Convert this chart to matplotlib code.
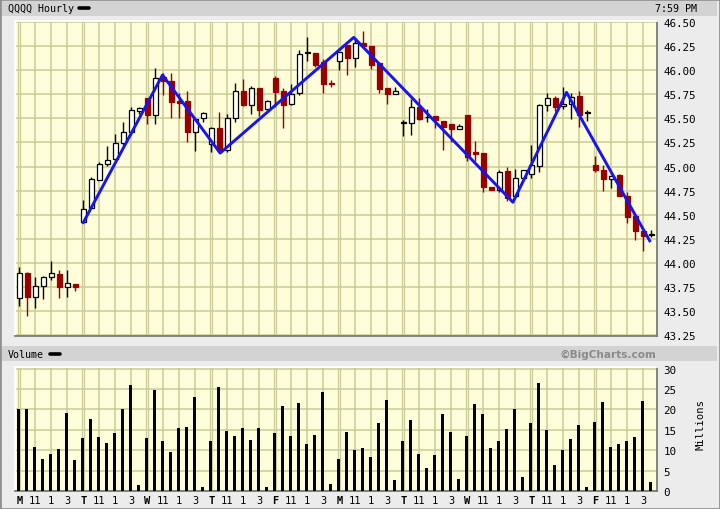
import matplotlib.pyplot as plt
from matplotlib.patches import Rectangle
from matplotlib.lines import Line2D

# Hourly QQQQ bars, 8 per day, 10 trading days
opens = [43.64, 43.90, 43.65, 43.76, 43.85, 43.89, 43.75, 43.78,
         44.43, 44.57, 44.86, 45.03, 45.08, 45.24, 45.36, 45.58,
         45.71, 45.53, 45.93, 45.89, 45.68, 45.68, 45.36, 45.50,
         45.23, 45.40, 45.17, 45.50, 45.78, 45.64, 45.81, 45.60,
         45.92, 45.78, 45.65, 45.76, 46.175, 46.18, 46.08, 45.865,
         46.10, 46.26, 46.13, 46.28, 46.25, 46.07, 45.82, 45.75,
         45.45, 45.45, 45.62, 45.51, 45.52, 45.47, 45.44, 45.395,
         45.53, 45.15, 45.14, 44.79, 44.76, 44.95, 44.69, 44.88,
         44.92, 45.01, 45.64, 45.71, 45.63, 45.65, 45.73, 45.555,
         45.02, 44.96, 44.87, 44.91, 44.69, 44.49, 44.33, 44.29]
highs = [43.96, 43.91, 43.86, 43.87, 44.02, 43.93, 43.93, 43.78,
         44.65, 44.89, 45.05, 45.21, 45.34, 45.46, 45.62, 45.62,
         45.71, 46.02, 45.97, 45.97, 45.76, 45.78, 45.49, 45.57,
         45.41, 45.57, 45.55, 45.87, 45.91, 45.84, 45.82, 45.69,
         45.94, 45.82, 45.86, 46.21, 46.34, 46.18, 46.12, 45.90,
         46.19, 46.26, 46.33, 46.41, 46.25, 46.07, 45.82, 45.83,
         45.48, 45.70, 45.71, 45.60, 45.52, 45.47, 45.44, 45.44,
         45.53, 45.27, 45.14, 44.79, 44.96, 45.00, 44.98, 44.96,
         45.22, 45.65, 45.76, 45.73, 45.83, 45.76, 45.78, 45.59,
         45.11, 45.02, 44.90, 44.92, 44.74, 44.49, 44.33, 44.34]
lows = [43.55, 43.45, 43.53, 43.63, 43.82, 43.64, 43.65, 43.71,
        44.41, 44.57, 44.86, 45.01, 45.08, 45.22, 45.33, 45.55,
        45.44, 45.44, 45.74, 45.50, 45.50, 45.26, 45.16, 45.46,
        45.15, 45.15, 45.15, 45.46, 45.63, 45.55, 45.52, 45.59,
        45.62, 45.40, 45.64, 45.74, 46.10, 46.03, 45.76, 45.83,
        46.00, 45.95, 46.03, 46.25, 46.01, 45.76, 45.65, 45.75,
        45.32, 45.33, 45.48, 45.46, 45.40, 45.17, 45.26, 45.385,
        45.06, 45.06, 44.74, 44.76, 44.74, 44.64, 44.67, 44.88,
        44.88, 44.94, 45.58, 45.58, 45.60, 45.49, 45.41, 45.47,
        44.94, 44.75, 44.78, 44.69, 44.41, 44.24, 44.12, 44.27]
closes = [43.90, 43.65, 43.76, 43.85, 43.90, 43.75, 43.79, 43.75,
          44.56, 44.87, 45.03, 45.07, 45.24, 45.36, 45.59, 45.61,
          45.53, 45.92, 45.89, 45.67, 45.66, 45.36, 45.49, 45.56,
          45.40, 45.17, 45.50, 45.78, 45.64, 45.82, 45.59, 45.68,
          45.77, 45.64, 45.75, 46.17, 46.185, 46.05, 45.86, 45.855,
          46.19, 46.13, 46.28, 46.25, 46.05, 45.80, 45.75, 45.78,
          45.455, 45.62, 45.49, 45.515, 45.48, 45.41, 45.39, 45.42,
          45.10, 45.13, 44.79, 44.76, 44.94, 44.67, 44.88, 44.96,
          45.02, 45.64, 45.71, 45.62, 45.65, 45.72, 45.54, 45.56,
          44.96, 44.87, 44.90, 44.69, 44.48, 44.33, 44.28, 44.295]
volume = [20.1, 20.1, 10.7, 7.8, 9.0, 10.2, 19.1, 7.5,
          13.0, 17.6, 13.2, 11.7, 14.2, 20.1, 26.0, 1.4,
          13.0, 24.8, 12.2, 9.5, 15.4, 15.7, 23.0, 1.1,
          12.2, 25.5, 14.7, 13.4, 15.4, 12.5, 15.4, 0.9,
          14.2, 20.8, 13.4, 21.6, 11.5, 13.7, 24.3, 1.6,
          7.8, 14.4, 10.0, 10.5, 8.3, 16.6, 22.3, 2.6,
          12.2, 17.4, 9.0, 5.6, 8.8, 18.9, 14.4, 2.9,
          13.4, 21.3, 18.9, 10.5, 12.2, 15.2, 20.1, 3.4,
          16.6, 26.5, 14.9, 6.3, 10.0, 12.7, 16.1, 1.1,
          16.9, 21.8, 10.7, 11.5, 12.2, 13.2, 22.0, 2.1]
days = ["M", "T", "W", "T", "F", "M", "T", "W", "T", "F"]
hours = ["11", "1", "3"]
# zigzag trend line (bar position, price)
zig_x = [8, 17.9, 25.1, 41.8, 61.7, 68.4, 78.8]
zig_y = [44.42, 45.95, 45.14, 46.34, 44.63, 45.77, 44.23]

bars_per_day = 8
n = len(closes)
x = list(range(n))
red = '#990000'
grid_c = '#CBCB98'
bg = '#FDFDDA'
mono = 'DejaVu Sans Mono'

fig = plt.figure(figsize=(7.2, 5.1), dpi=100, facecolor='#ECECEC')
W, H = 720, 510

def fbox(l, t, r, b):
    return [l / W, 1 - b / H, (r - l) / W, (b - t) / H]

ax = fig.add_axes(fbox(15, 22, 657, 337), facecolor=bg)
vax = fig.add_axes(fbox(15, 368, 657, 492), facecolor=bg)

# header strips
for t, b in [(2, 17), (347, 362)]:
    fig.patches.append(Rectangle((2 / W, 1 - b / H), 715 / W, (b - t) / H,
                                 transform=fig.transFigure, facecolor='#D3D3D3',
                                 edgecolor='none', zorder=0))
fig.patches.append(Rectangle((0, 0), 1, 1, transform=fig.transFigure,
                             facecolor='none', edgecolor='#909090', lw=2, zorder=0))
fig.text(8 / W, 1 - 9.5 / H, "QQQQ Hourly", family=mono, fontsize=7.2, va='center')
fig.add_artist(Line2D([79 / W, 89 / W], [1 - 9 / H] * 2, color='black', lw=2.6,
                      solid_capstyle='round'))
fig.text(697 / W, 1 - 9.5 / H, "7:59 PM", family=mono, fontsize=7.2, va='center', ha='right')
fig.text(8 / W, 1 - 355 / H, "Volume", family=mono, fontsize=7.2, va='center')
fig.add_artist(Line2D([50 / W, 60 / W], [1 - 355 / H] * 2, color='black', lw=2.6,
                      solid_capstyle='round'))
fig.text(656 / W, 1 - 355 / H, "\u00a9BigCharts.com", fontsize=7.6, fontweight='bold',
         color='#8A8A8A', va='center', ha='right')
fig.text(700 / W, 1 - 425 / H, "Millions", family=mono, fontsize=7.6, rotation=90,
         va='center', ha='center')

for a in (ax, vax):
    a.set_xlim(-0.54, n - 0.29)
    # vertical grid: every 2 bars, doubled at day starts
    for k in range(0, n, 2):
        if k % bars_per_day == 0:
            a.axvline(k - 0.14, color=grid_c, lw=0.9, zorder=0)
            a.axvline(k + 0.14, color=grid_c, lw=0.9, zorder=0)
        else:
            a.axvline(k, color=grid_c, lw=1.1, zorder=0)
    a.yaxis.tick_right()
    a.tick_params(axis='y', length=0, pad=4.5, labelsize=7.8)
    a.spines['top'].set_color('white')
    a.spines['left'].set_color('white')
    a.spines['bottom'].set_color('#7A7A7A')
    a.spines['right'].set_color('#7A7A7A')
    for s in a.spines.values():
        s.set_linewidth(1.3)

# price panel
ax.set_ylim(43.243, 46.51)
yt = [43.25 + 0.25 * i for i in range(14)]
ax.set_yticks(yt)
ax.set_yticklabels(["%.2f" % v for v in yt], family=mono, fontsize=7.8)
for v in yt:
    ax.axhline(v, color=grid_c, lw=1.1, zorder=0)
ax.set_xticks([])

up_c = ['white' if c >= o else red for o, c in zip(opens, closes)]
edge_c = ['black' if c >= o else red for o, c in zip(opens, closes)]
bottoms = [min(o, c) for o, c in zip(opens, closes)]
heights = [max(abs(c - o), 0.008) for o, c in zip(opens, closes)]
ax.vlines(x, lows, highs, colors=edge_c, lw=1.0, zorder=2)
ax.bar(x, heights, bottom=bottoms, width=0.6, color=up_c, edgecolor=edge_c,
       linewidth=0.9, zorder=3)
ax.plot(zig_x, zig_y, color='#1414F5', lw=2.1, zorder=4)

# volume panel
vax.set_ylim(0, 30.4)
vt = list(range(0, 31, 5))
vax.set_yticks(vt)
vax.set_yticklabels([str(v) for v in vt], family=mono, fontsize=7.8)
for v in vt:
    vax.axhline(v, color=grid_c, lw=1.1, zorder=0)
vax.bar([k - 0.1 for k in x], volume, width=0.38, color='black', zorder=3)

xt, xl = [], []
for d, day in enumerate(days):
    base = d * bars_per_day
    xt += [base, base + 2, base + 4, base + 6]
    xl += [day] + hours
vax.set_xticks(xt)
vax.set_xticklabels(xl, family=mono, fontsize=7.5)
vax.tick_params(axis='x', length=0, pad=3)
for lab in vax.get_xticklabels():
    if lab.get_text() in days:
        lab.set_fontweight('bold')

fig.savefig('out.png', dpi=100, facecolor=fig.get_facecolor())
